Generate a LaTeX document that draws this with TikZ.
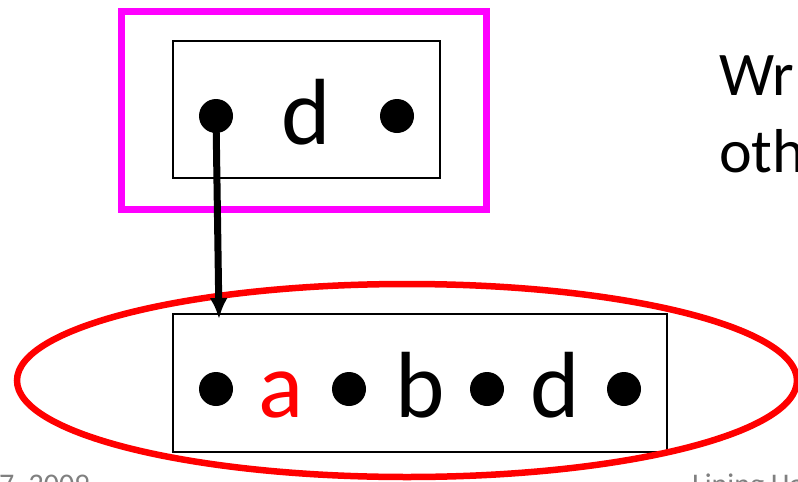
\documentclass[tikz,border=0pt]{standalone}
\usepackage{fontspec}
\setmainfont{Carlito}
\usetikzlibrary{arrows.meta}
\definecolor{frame}{RGB}{255,0,255}
\definecolor{ring}{RGB}{255,0,0}
\definecolor{footgray}{RGB}{128,128,128}
\tikzset{>={Latex[length=21pt,width=18pt]}}
\tikzset{
    cell/.style={draw, line width=1.6pt, inner sep=0pt},
    dot/.style={circle, fill, inner sep=0pt, minimum size=34pt},
    letter/.style={anchor=base, inner sep=0pt, font=\fontsize{94}{100}\selectfont},
    side/.style={anchor=base west, inner sep=0pt, font=\fontsize{62}{70}\selectfont},
    foot/.style={anchor=base west, inner sep=0pt, text=footgray, font=\fontsize{30}{34}\selectfont},
}

\begin{document}
\begin{tikzpicture}[x=1pt, y=-1pt]
    \useasboundingbox (0,0) rectangle (798,482);
    \clip (0,0) rectangle (798,482);
    \fill [white] (0,0) rectangle (798,482);

    \node [cell, minimum width=267pt, minimum height=137pt] (src) at (306.5,109.5) {};
    \node [dot] (s1) at (216,116) {};
    \node [dot] (s2) at (397,116) {};
    \node [letter] (sd) at (306,144) {d};
    \draw [frame, line width=7pt] (121.5,11.5) rectangle (486.5,209.5);

    \node [cell, minimum width=494pt, minimum height=138pt] (dst) at (420,383) {};
    \foreach \x/\n in {216/p1, 349/p2, 487/p3, 624/p4}
        \node [dot] (\n) at (\x,389) {};
    \node [letter, text=ring] (la) at (281,417) {a};
    \node [letter] (lb) at (420,417) {b};
    \node [letter] (ld) at (555,417) {d};

    \draw [ring, line width=6.5pt] (407,380.5) ellipse [x radius=390, y radius=96.5];

    \coordinate (tip) at (219,319);
    \draw [->, line width=7pt] (s1.center) -- (tip);

    \node [side] (w1) at (719,95) {Wr};
    \node [side] (w2) at (719,172) {oth};

    \node [foot] (date) at (-1,494) {7, 2009};
    \node [foot] (name) at (692,494) {Lining Ha};
\end{tikzpicture}
\end{document}
